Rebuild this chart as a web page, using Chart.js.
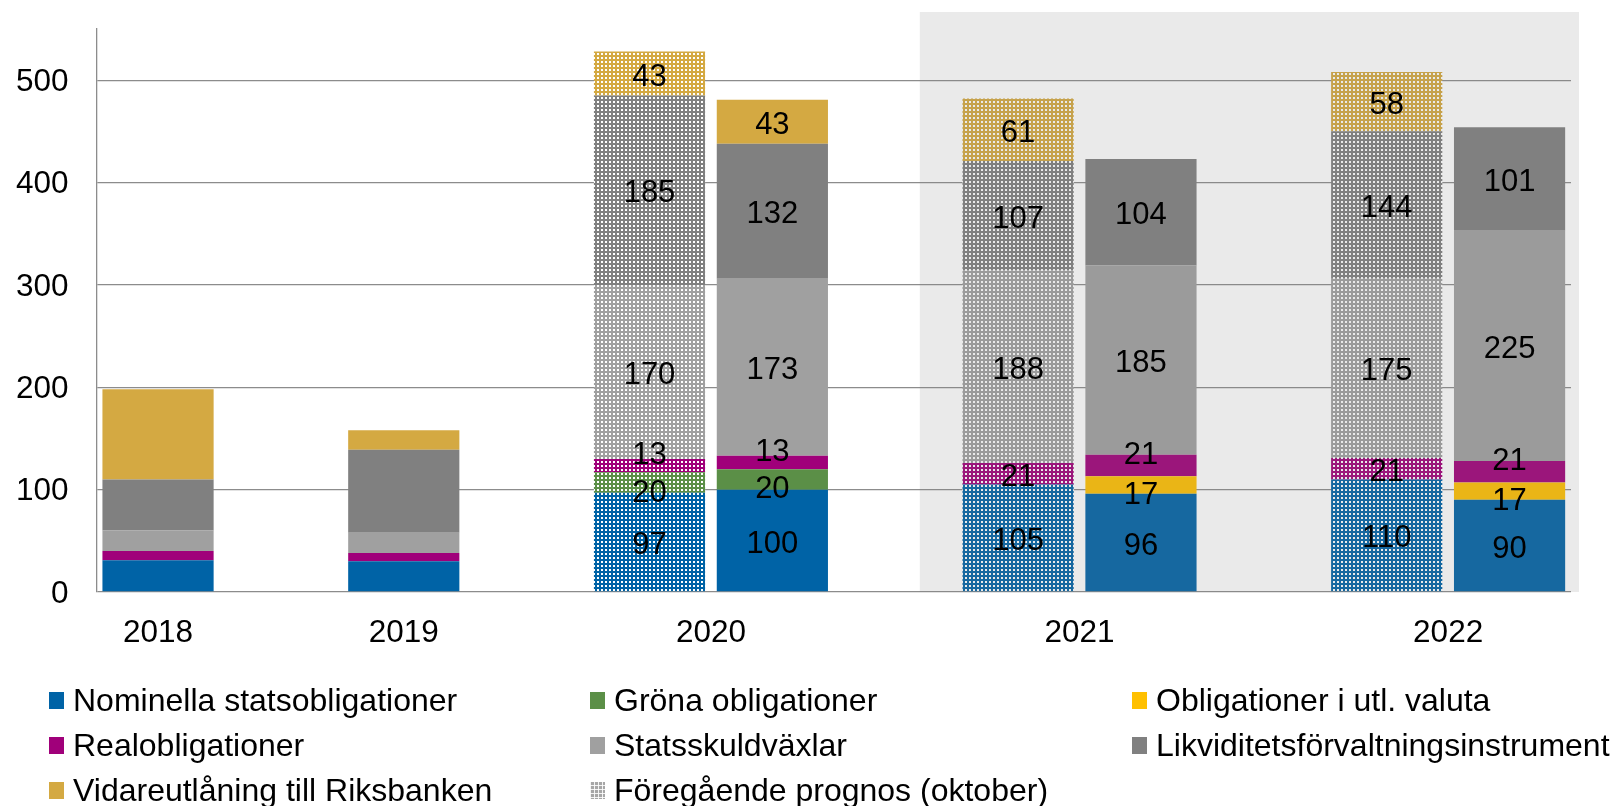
<!DOCTYPE html>
<html>
<head>
<meta charset="utf-8">
<script src="https://cdn.jsdelivr.net/npm/chart.js@4.4.1/dist/chart.umd.min.js"></script>
<style>
    html, body { margin: 0; padding: 0; background: #fff; }
    #wrap { position: relative; width: 1614px; height: 806px; }
    #chart { position: absolute; left: 0; top: 0; }
    #legend { position: absolute; left: 0; top: 0; font-family: "Liberation Sans", Arial, sans-serif; font-size: 32px; color: #000; }
    .item { position: absolute; display: flex; align-items: center; height: 40px; line-height: 40px; white-space: nowrap; }
    .box { width: 15px; height: 17px; margin-right: 9px; flex: none; }
</style>
</head>
<body>
<div id="wrap">
    <canvas id="chart" width="1614" height="806"></canvas>
    <div id="legend"></div>
</div>
<script>
// One slot per bar along the x axis, empty slots are the gaps between years
const slotYears = ['2018', '', '2019', '', '2020', '2020', '', '2021', '2021', '', '2022', '2022'];
// Previous forecast (October) bars are drawn dotted
const prevForecast = [false, false, false, false, true, false, false, true, false, false, true, false];
// Only the forecast years carry value labels
const labelledYears = ['2020', '2021', '2022'];

const nominella  = [31, null, 30, null, 97, 100, null, 105, 96, null, 110, 90];
const grona      = [0, null, 0, null, 20, 20, null, 0, 0, null, 0, 0];
const utlValuta  = [0, null, 0, null, 0, 0, null, 0, 17, null, 0, 17];
const realoblig  = [9, null, 8, null, 13, 13, null, 21, 21, null, 21, 21];
const statsskuld = [20, null, 20, null, 170, 173, null, 188, 185, null, 175, 225];
const likviditet = [50, null, 81, null, 185, 132, null, 107, 104, null, 144, 101];
const vidareutl  = [88, null, 19, null, 43, 43, null, 61, 0, null, 58, 0];

const prevLabel = 'Föregående prognos (oktober)';

const FONT = '"Liberation Sans", Arial, sans-serif';

// color with a grid of small white squares
function dotted(color) {
    const c = document.createElement('canvas');
    c.width = 4;
    c.height = 4;
    const g = c.getContext('2d');
    g.fillStyle = color;
    g.fillRect(0, 0, 4, 4);
    g.fillStyle = '#fff';
    g.fillRect(1, 1, 2, 2);
    return g.createPattern(c, 'repeat');
}

function series(label, data, color) {
    return {
        label: label,
        data: data,
        legendColor: color,
        backgroundColor: slotYears.map((y, i) => prevForecast[i] ? dotted(color) : color),
        borderWidth: 0,
        barPercentage: 0.905,
        categoryPercentage: 1
    };
}

const datasets = [
    series('Nominella statsobligationer', nominella, '#0063a6'),
    series('Gröna obligationer', grona, '#5b8f47'),
    series('Obligationer i utl. valuta', utlValuta, '#ffc000'),
    series('Realobligationer', realoblig, '#a0007a'),
    series('Statsskuldväxlar', statsskuld, '#a0a0a0'),
    series('Likviditetsförvaltningsinstrument', likviditet, '#808080'),
    series('Vidareutlåning till Riksbanken', vidareutl, '#d4a942')
];

// forecast shading drawn over the bars, then the value labels
const overlayAndLabels = {
    id: 'overlayAndLabels',
    afterDatasetsDraw(chart) {
        const ctx = chart.ctx;
        const area = chart.chartArea;
        const x = chart.scales.x;
        const slotW = x.getPixelForValue(1) - x.getPixelForValue(0);

        ctx.save();
        const left = x.getPixelForValue(6) + 0.2 * slotW;
        ctx.fillStyle = 'rgba(128,128,128,0.17)';
        ctx.fillRect(left, area.top - 17, area.right + 8 - left, area.bottom - area.top + 17);

        ctx.font = '31px ' + FONT;
        ctx.fillStyle = '#000';
        ctx.textAlign = 'center';
        ctx.textBaseline = 'middle';
        chart.data.datasets.forEach((ds, di) => {
            const meta = chart.getDatasetMeta(di);
            meta.data.forEach((bar, i) => {
                const v = ds.data[i];
                if (!v || !labelledYears.includes(slotYears[i])) return;
                const p = bar.getProps(['x', 'y', 'base'], true);
                let cy = (p.y + p.base) / 2;
                // small neighbouring segments: push labels apart
                if (di === 3 && (grona[i] || utlValuta[i])) cy -= 14;
                if ((di === 1 || di === 2) && realoblig[i]) cy += 7;
                ctx.fillText(String(v), p.x, cy + 3.5);
            });
        });
        ctx.restore();
    },
    // year labels, centred under each year's bars
    afterDraw(chart) {
        const ctx = chart.ctx;
        const x = chart.scales.x;
        ctx.save();
        ctx.font = '31.5px ' + FONT;
        ctx.fillStyle = '#000';
        ctx.textAlign = 'center';
        ctx.textBaseline = 'middle';
        [...new Set(slotYears.filter(y => y))].forEach(y => {
            const px = slotYears.map((s, i) => s === y ? x.getPixelForValue(i) : null).filter(v => v !== null);
            const cx = px.reduce((a, b) => a + b, 0) / px.length;
            ctx.fillText(y, cx, chart.chartArea.bottom + 41);
        });
        ctx.restore();
    }
};

const chart = new Chart(document.getElementById('chart').getContext('2d'), {
    type: 'bar',
    data: {
        labels: slotYears,
        datasets: datasets
    },
    options: {
        responsive: false,
        animation: false,
        layout: {
            padding: { top: 29, right: 43, bottom: 214, left: 0 }
        },
        plugins: {
            legend: { display: false },
            tooltip: { enabled: false }
        },
        scales: {
            x: {
                display: false,
                stacked: true,
                offset: true,
                grid: { display: false }
            },
            y: {
                stacked: true,
                min: 0,
                max: 550,
                afterBuildTicks: function(scale) {
                    scale.ticks = scale.ticks.filter(t => t.value % 100 === 0);
                },
                afterFit: function(scale) {
                    scale.width = 96.6;
                    scale.paddingTop = 0;
                    scale.paddingBottom = 0;
                },
                grid: { color: '#8c8c8c', lineWidth: 1.3, drawTicks: false },
                border: { color: '#8c8c8c', width: 1.3 },
                ticks: {
                    stepSize: 100,
                    padding: 28,
                    labelOffset: 2,
                    color: '#000',
                    font: { family: FONT, size: 31.5 }
                }
            }
        }
    },
    plugins: [overlayAndLabels]
});

// Legend in three fixed columns
const colX = [49, 590, 1132];
const rowY = [700, 745, 790];
const legendEl = document.getElementById('legend');
const items = chart.data.datasets.map(ds => ({ text: ds.label, color: ds.legendColor }));
items.push({ text: prevLabel, pattern: true });
items.forEach((it, k) => {
    const el = document.createElement('div');
    el.className = 'item';
    el.style.left = colX[k % 3] + 'px';
    el.style.top = (rowY[Math.floor(k / 3)] - 20) + 'px';
    const box = document.createElement('span');
    box.className = 'box';
    if (it.pattern) {
        box.style.backgroundColor = '#a6a6a6';
        box.style.backgroundImage = 'linear-gradient(90deg, rgba(255,255,255,0.85) 1px, transparent 1px), linear-gradient(0deg, rgba(255,255,255,0.85) 1px, transparent 1px)';
        box.style.backgroundSize = '4px 4px';
    } else {
        box.style.backgroundColor = it.color;
    }
    const txt = document.createElement('span');
    txt.textContent = it.text;
    el.appendChild(box);
    el.appendChild(txt);
    legendEl.appendChild(el);
});
</script>
</body>
</html>
